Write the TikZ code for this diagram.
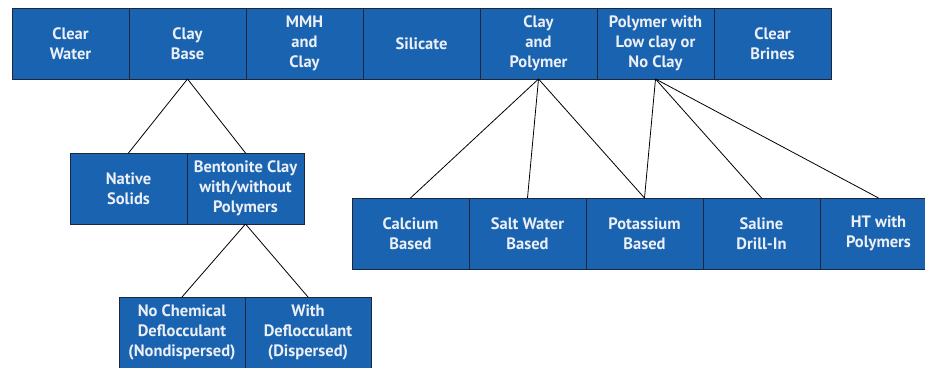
\documentclass[tikz,border=0pt]{standalone}
\usepackage{fontspec}
\setmainfont{PT Sans}
\usetikzlibrary{positioning}
\definecolor{mudblue}{RGB}{26,99,176}
\definecolor{mudedge}{RGB}{28,38,62}
\definecolor{mudtext}{RGB}{236,240,246}
\tikzset{
        fluidnode/.style={align=center,inner sep=0pt,outer sep=0pt},
        % Fluid type boxes
        node_fluid/.style={fluidnode, rectangle, text=mudtext, fill=mudblue, draw=mudedge, line width=0.9pt,
                font=\bfseries\fontsize{16.5}{20}\selectfont, minimum width=117pt, minimum height=71pt},
        % Wider boxes of the lowest row
        node_fluid_wide/.style={node_fluid, minimum width=126pt},
        % Branch lines
        branch/.style={black, line width=0.8pt}
}

\begin{document}
\begin{tikzpicture}[x=1pt, y=-1pt, node distance=0pt]
    \clip (0,0) rectangle (925,367);
    \fill[white] (0,0) rectangle (925,367);

    % top row
    \node[node_fluid, anchor=north west] (water) at (12,8) {Clear\\Water};
    \node[node_fluid, right=of water] (claybase) {Clay\\Base};
    \node[node_fluid, right=of claybase] (mmh) {MMH\\and\\Clay};
    \node[node_fluid, right=of mmh] (silicate) {Silicate};
    \node[node_fluid, right=of silicate] (claypoly) {Clay\\and\\Polymer};
    \node[node_fluid, right=of claypoly] (lowclay) {Polymer with\\Low clay or\\No Clay};
    \node[node_fluid, right=of lowclay] (brines) {Clear\\Brines};

    % clay base branch
    \node[node_fluid, anchor=north west] (native) at (70,153) {Native\\Solids};
    \node[node_fluid, right=of native] (bentonite) {Bentonite Clay\\with/without\\Polymers};
    \node[node_fluid_wide, anchor=north west] (nochem) at (119,297) {No Chemical\\Deflocculant\\(Nondispersed)};
    \node[node_fluid_wide, right=of nochem] (defloc) {With\\Deflocculant\\(Dispersed)};

    % polymer branch
    \node[node_fluid, anchor=north west] (calcium) at (352,198) {Calcium\\Based};
    \node[node_fluid, right=of calcium] (saltwater) {Salt Water\\Based};
    \node[node_fluid, right=of saltwater] (potassium) {Potassium\\Based};
    \node[node_fluid, right=of potassium] (saline) {Saline\\Drill-In};
    \node[node_fluid, right=of saline] (hightemp) {HT with\\Polymers};

    % branch lines
    \draw[branch] (claybase.south) -- (native.north);
    \draw[branch] (claybase.south) -- (bentonite.north);
    \draw[branch] (bentonite.south) -- (nochem.north);
    \draw[branch] (bentonite.south) -- (defloc.north);
    \foreach \child in {calcium, saltwater, potassium}
        \draw[branch] (claypoly.south) -- (\child.north);
    \foreach \child in {potassium, saline, hightemp}
        \draw[branch] (lowclay.south) -- (\child.north);
\end{tikzpicture}
\end{document}
